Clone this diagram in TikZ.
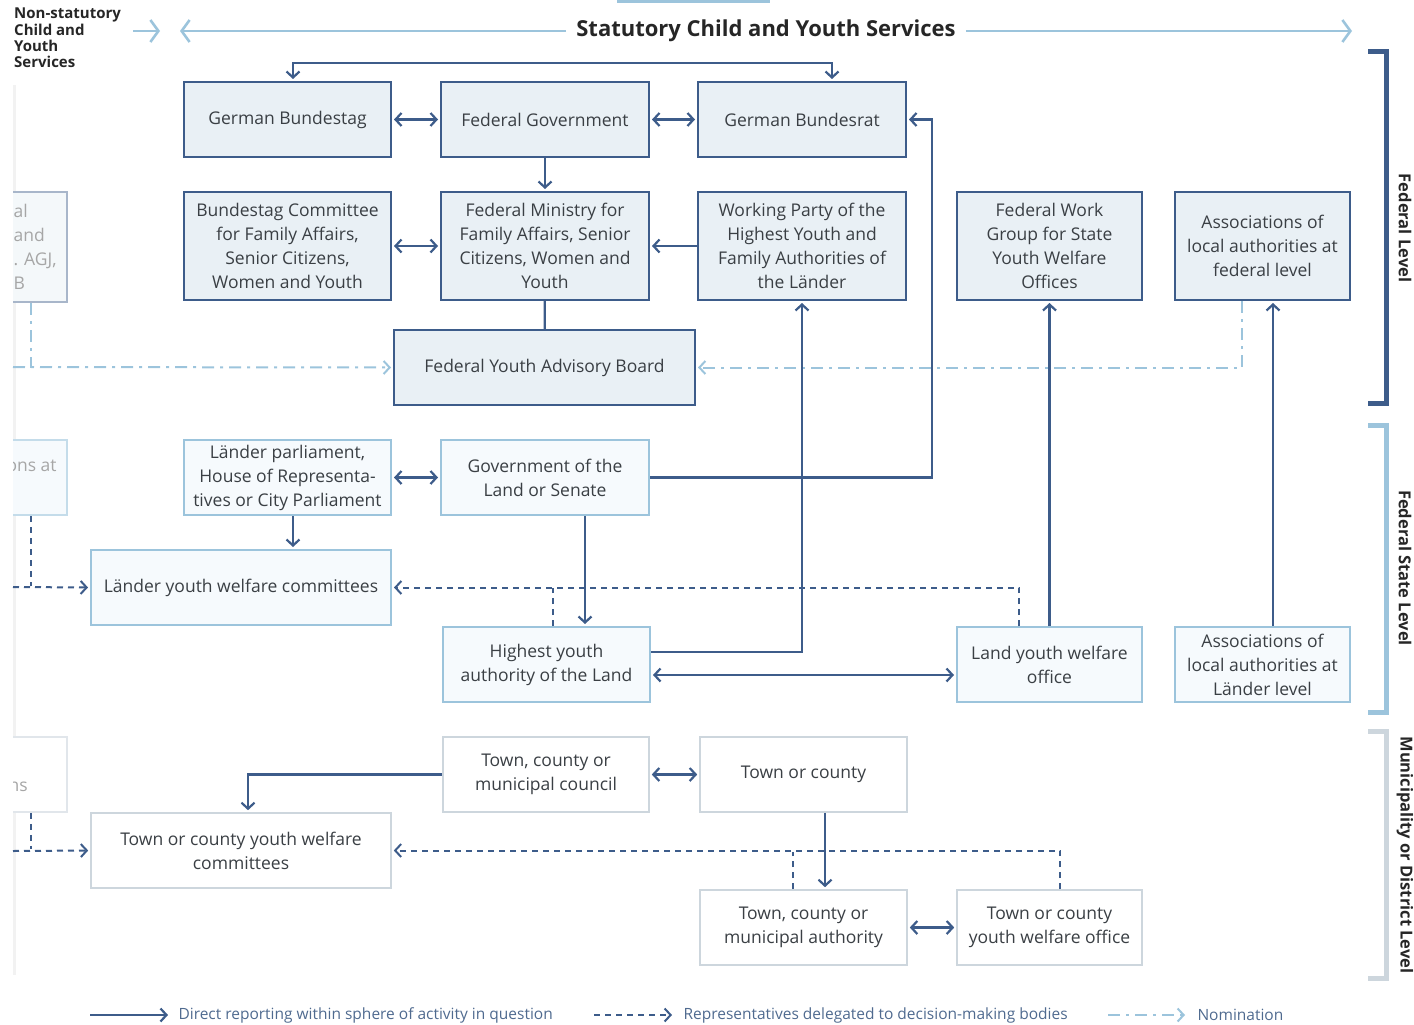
\documentclass[tikz,border=0pt]{standalone}
\usepackage{fontspec}
\setmainfont{Open Sans}
\usepackage{tikz}
\usetikzlibrary{arrows.meta,positioning,calc}
\usepackage{xcolor}

\definecolor{darkblue}{RGB}{61,92,138}
\definecolor{lightblue}{RGB}{156,196,220}
\definecolor{greyline}{RGB}{205,214,221}
\definecolor{fedfill}{RGB}{233,240,245}
\definecolor{statefill}{RGB}{246,250,253}
\definecolor{txt}{RGB}{58,63,68}
\definecolor{legtxt}{RGB}{79,106,143}

\begin{document}
\begin{tikzpicture}[x=1pt, y=-1pt,
    every node/.style={font=\fontsize{17.5}{24}\selectfont, text=txt, align=center},
    fedbox/.style={rectangle, draw=darkblue, fill=fedfill, line width=2pt, inner sep=0pt},
    statebox/.style={rectangle, draw=lightblue, fill=statefill, line width=2pt, inner sep=0pt},
    munbox/.style={rectangle, draw=greyline, fill=white, line width=1.6pt, inner sep=0pt},
    cuttext/.style={text=black!35, align=left, anchor=west},
    arr/.style={-{Straight Barb[length=6pt,width=13pt]}, line width=2.2pt, draw=darkblue, shorten >=2pt},
    biarr/.style={{Straight Barb[length=6pt,width=13pt]}-{Straight Barb[length=6pt,width=13pt]}, line width=2.2pt, draw=darkblue, shorten >=2pt, shorten <=2pt},
    deleg/.style={-{Straight Barb[length=6pt,width=13pt]}, line width=2pt, draw=darkblue, dash pattern=on 6pt off 5pt, shorten >=2pt},
    nomin/.style={-{Straight Barb[length=6pt,width=13pt]}, line width=2pt, draw=lightblue, dash pattern=on 12pt off 6pt on 3pt off 6pt, shorten >=2pt},
    hdrarr/.style={-{Straight Barb[length=8pt,width=22pt]}, line width=2.6pt, draw=lightblue},
    levelbar/.style={line width=5pt},
    leveltext/.style={font=\bfseries\fontsize{16.5}{18}\selectfont, text=black!85, rotate=-90},
    legtext/.style={anchor=west, font=\fontsize{15.5}{18}\selectfont, text=legtxt}
]
\useasboundingbox (0,0) rectangle (1414,1025);

% Header
\fill[lightblue] (617,0) rectangle (770,3);
\node (nonstat) [anchor=north west, align=left, inner sep=0pt, font=\bfseries\fontsize{15}{16.3}\selectfont, text=black!85] at (14,8) {Non-statutory\\Child and\\Youth\\Services};
\node (stat) [font=\bfseries\fontsize{22}{24}\selectfont, text=black!85, inner sep=10pt] at (766,31) {Statutory Child and Youth Services};
\coordinate (statl) at (180,31);
\coordinate (statr) at (1352,31);
\coordinate (nonl) at (133,31);
\coordinate (nonr) at (160,31);
\draw[hdrarr] (nonl) -- (nonr);
\draw[hdrarr] (stat.west) -- (statl);
\draw[hdrarr] (stat.east) -- (statr);

% Cut-off column on the left
\fill[black!5] (13,85) rectangle (16,975);
\begin{scope}
\clip (13,0) rectangle (100,1025);
\node (lfed) [fedbox, draw=darkblue!45, fill=fedfill!50, minimum width=80pt, minimum height=110pt] at (27,247) {};
\node (lfedtxt) [cuttext] at (10,247) {al\\and\\. AGJ,\\B};
\node (lland) [statebox, draw=lightblue!60, minimum width=80pt, minimum height=75pt] at (27,477.5) {};
\node (llandtxt) [cuttext] at (3,477.5) {ons at\\l};
\node (lmun) [munbox, draw=greyline!60, minimum width=80pt, minimum height=75pt] at (27,774.5) {};
\node (lmuntxt) [cuttext] at (5,787) {ns};
\end{scope}
\coordinate (lfedin) at (13,367);
\coordinate (llandin) at (13,587);
\coordinate (lmunin) at (13,851);

% Federal level
\node (bundestag) [fedbox, minimum width=207pt, minimum height=75pt] at (287.5,119.5) {German Bundestag};
\node (fedgov) [fedbox, minimum width=208pt, minimum height=75pt] at (545,119.5) {Federal Government};
\node (bundesrat) [fedbox, minimum width=208pt, minimum height=75pt] at (802,119.5) {German Bundesrat};
\node (committee) [fedbox, minimum width=207pt, minimum height=108pt] at (287.5,246) {Bundestag Committee\\for Family Affairs,\\Senior Citizens,\\Women and Youth};
\node (ministry) [fedbox, minimum width=208pt, minimum height=108pt] at (545,246) {Federal Ministry for\\Family Affairs, Senior\\Citizens, Women and\\Youth};
\node (workparty) [fedbox, minimum width=208pt, minimum height=108pt] at (802,246) {Working Party of the\\Highest Youth and\\Family Authorities of\\the Länder};
\node (fedwork) [fedbox, minimum width=185pt, minimum height=108pt] at (1049.5,246) {Federal Work\\Group for State\\Youth Welfare\\Offices};
\node (assocfed) [fedbox, minimum width=175pt, minimum height=108pt] at (1262.5,246) {Associations of\\local authorities at\\federal level};
\node (board) [fedbox, minimum width=301pt, minimum height=75pt] at (544.5,367.5) {Federal Youth Advisory Board};

% Federal state level
\node (parliament) [statebox, minimum width=207pt, minimum height=75pt] at (287.5,477.5) {Länder parliament,\\House of Representa-\\tives or City Parliament};
\node (landgov) [statebox, minimum width=208pt, minimum height=75pt] at (545,477.5) {Government of the\\Land or Senate};
\node (landcomm) [statebox, minimum width=300pt, minimum height=75pt] at (241,587.5) {Länder youth welfare committees};
\node (highest) [statebox, minimum width=207pt, minimum height=75pt] at (546.5,664.5) {Highest youth\\authority of the Land};
\node (landoffice) [statebox, minimum width=185pt, minimum height=75pt] at (1049.5,664.5) {Land youth welfare\\office};
\node (assocland) [statebox, minimum width=175pt, minimum height=75pt] at (1262.5,664.5) {Associations of\\local authorities at\\Länder level};

% Municipal level
\node (council) [munbox, minimum width=206pt, minimum height=75pt] at (546,774.5) {Town, county or\\municipal council};
\node (town) [munbox, minimum width=207pt, minimum height=75pt] at (803.5,774.5) {Town or county};
\node (towncomm) [munbox, minimum width=300pt, minimum height=75pt] at (241,850.5) {Town or county youth welfare\\committees};
\node (authority) [munbox, minimum width=207pt, minimum height=75pt] at (803.5,927.5) {Town, county or\\municipal authority};
\node (townoffice) [munbox, minimum width=185pt, minimum height=75pt] at (1049.5,927.5) {Town or county\\youth welfare office};

% Connections, federal
\draw[biarr] ([xshift=5.5pt]bundestag.north) -- ++(0,-18) -| ([xshift=30pt]bundesrat.north);
\draw[biarr] (bundestag) -- (fedgov);
\draw[biarr] (fedgov) -- (bundesrat);
\draw[arr] (fedgov) -- (ministry);
\draw[biarr] (committee) -- (ministry);
\draw[arr] (workparty) -- (ministry);
\draw[line width=2.2pt, darkblue] (ministry) -- (board);
\draw[line width=2pt, lightblue, dash pattern=on 12pt off 6pt on 3pt off 6pt] ([xshift=4pt]lfed.south) -- ([xshift=4pt]lfed.south |- board.west);
\draw[nomin] (lfedin) -- (board.west);
\draw[nomin] ([xshift=-20.5pt]assocfed.south) |- (board.east);

% Connections, federal state
\draw[arr] (landgov.east) -- ++(282,0) |- (bundesrat.east);
\draw[arr] ([yshift=12.5pt]highest.east) -| (workparty.south);
\draw[arr] (landoffice) -- (fedwork);
\draw[arr] ([xshift=10.5pt]assocland.north) -- ([xshift=10.5pt]assocfed.south);
\draw[biarr] (parliament) -- (landgov);
\draw[arr] ([xshift=5.5pt]parliament.south) -- ([xshift=5.5pt]parliament.south |- landcomm.north);
\draw[arr] ([xshift=40pt]landgov.south) -- ([xshift=40pt]landgov.south |- highest.north);
\draw[deleg, -] ([xshift=4pt]lland.south) -- ([xshift=4pt]lland.south |- landcomm.west);
\draw[deleg] (llandin) -- (landcomm.west);
\draw[deleg] ([xshift=-30.5pt]landoffice.north) |- (landcomm.east);
\draw[deleg, -] ([xshift=6.5pt]highest.north) -- ++(0,-40);
\draw[biarr] ([yshift=-10.5pt]highest.east) -- ([yshift=-10.5pt]highest.east -| landoffice.west);

% Connections, municipal
\draw[arr] (council.west) -| ([xshift=7pt]towncomm.north);
\draw[biarr] (council) -- (town);
\draw[arr] ([xshift=21.5pt]town.south) -- ([xshift=21.5pt]town.south |- authority.north);
\draw[deleg, -] ([xshift=4pt]lmun.south) -- ([xshift=4pt]lmun.south |- towncomm.west);
\draw[deleg] (lmunin) -- (towncomm.west);
\draw[deleg] ([xshift=10.5pt]townoffice.north) |- (towncomm.east);
\draw[deleg, -] ([xshift=-10.5pt]authority.north) -- ++(0,-39);
\draw[biarr] (authority) -- (townoffice);

% Levels
\draw[levelbar, darkblue] (1368,52) -- (1386,52) -- (1386,403) -- (1368,403);
\node (fedlevel) [leveltext] at (1405,228) {Federal Level};
\draw[levelbar, lightblue] (1368,425) -- (1386,425) -- (1386,712) -- (1368,712);
\node (statelevel) [leveltext] at (1405,568) {Federal State Level};
\draw[levelbar, greyline] (1368,731) -- (1386,731) -- (1386,978) -- (1368,978);
\node (munlevel) [leveltext] at (1405,855) {Municipality or District Level};

% Legend
\node (leg1) [legtext] at (175,1015) {Direct reporting within sphere of activity in question};
\node (leg2) [legtext] at (680,1015) {Representatives delegated to decision-making bodies};
\node (leg3) [legtext] at (1194,1015) {Nomination};
\draw[arr, shorten >=0pt] ([xshift=-85pt]leg1.west) -- ([xshift=-7pt]leg1.west);
\draw[deleg, shorten >=0pt] ([xshift=-86pt]leg2.west) -- ([xshift=-8pt]leg2.west);
\draw[nomin, shorten >=0pt] ([xshift=-86pt]leg3.west) -- ([xshift=-9pt]leg3.west);

\end{tikzpicture}
\end{document}
